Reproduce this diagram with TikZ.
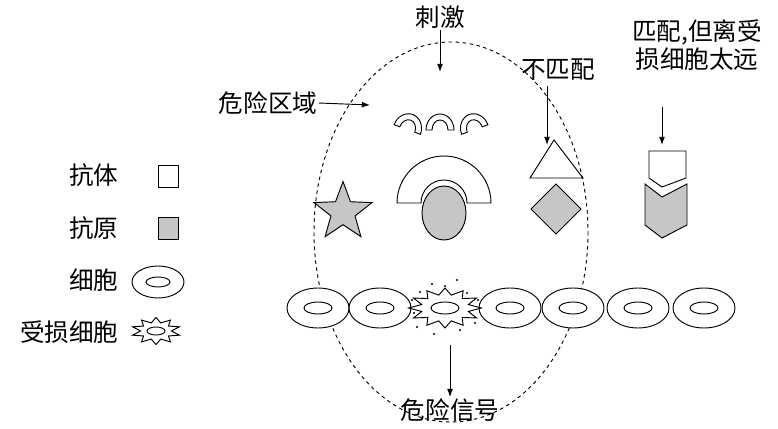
\documentclass[tikz,border=0pt]{standalone}
\usepackage{fontspec}
\setmainfont{Noto Sans CJK SC}
\usetikzlibrary{shapes.geometric,shapes.misc,arrows.meta}
\begin{document}
\begin{tikzpicture}[x=0.03cm,y=-0.03cm,
  lbl/.style={font=\fontsize{21}{24}\selectfont,inner sep=1pt},
  arr/.style={-{Latex[length=7pt,width=5pt]},thick},
  shp/.style={draw,thick},
  ag/.style={draw,thick,fill=gray!45}]
\path[use as bounding box] (0,0) rectangle (778,429);
% dashed zone
\draw[thick,dashed] (451,232) ellipse [x radius=137, y radius=190];
% cells
\foreach \x in {318,380,510,573,638,704}{
  \draw[thick,fill=white] (\x,308) ellipse [x radius=31, y radius=20];
  \draw[thick] (\x,308) ellipse [x radius=14, y radius=6];
}
\node[star,star points=12,star point ratio=1.5,draw,thick,fill=white,minimum size=62pt,inner sep=0pt,yscale=0.55] (dmg) at (445,308) {};
\draw[thick] (445,308) ellipse [x radius=14, y radius=6];
\foreach \p in {(420,292),(432,284),(445,286),(457,280),(412,300),(467,293),(417,327),(434,334),(460,330),(475,323),(478,300),(414,313)}
  \fill \p circle (1.2);
% legend
\node[lbl,anchor=east] (t1) at (120,175) {抗体};
\node[lbl,anchor=east] (t2) at (120,228) {抗原};
\node[lbl,anchor=east] (t3) at (120,280) {细胞};
\node[lbl,anchor=east] (t4) at (120,332) {受损细胞};
\draw[shp] (158,165) rectangle (178,187);
\draw[ag] (158,217) rectangle (178,239);
\draw[thick] (158,282) ellipse [x radius=26, y radius=16];
\draw[thick] (158,282) ellipse [x radius=12, y radius=5];
\node[star,star points=10,star point ratio=1.6,draw,thick,minimum size=42pt,inner sep=0pt,yscale=0.55] (lstar) at (156,331) {};
\draw[thick] (156,331) ellipse [x radius=9, y radius=4];
% stimulus arcs
\foreach \x/\r in {410/-20,440/0,472/20}{
  \begin{scope}[rotate around={\r:(\x,122)}]
  \draw[shp] (\x-14,130) arc[start angle=180,end angle=360,x radius=14,y radius=16] -- ++(-6,0) arc[start angle=360,end angle=180,x radius=8,y radius=10] -- cycle;
  \end{scope}
}
\node[lbl] (ci) at (440,17) {刺激};
\coordinate (ciE) at (440,72);
\draw[arr] (ci) -- (ciE);
% zone label
\node[lbl] (zone) at (268,103) {危险区域};
\coordinate (zoneE) at (370,105);
\draw[arr] (zone.east) -- (zoneE);
% antibody arch + antigen
\draw[shp] (397,203) arc[start angle=180,end angle=360,radius=47] -- (467,203) arc[start angle=360,end angle=180,radius=23] -- cycle;
\draw[ag] (444,213) ellipse [x radius=22, y radius=27];
% star antigen
\node[star,star points=5,star point ratio=2.4,ag,minimum size=52pt,inner sep=0pt] (st) at (343,212) {};
% triangle + diamond
\draw[shp] (530,178) -- (583,178) -- (554,140) -- cycle;
\draw[ag] (556,184) -- (581,209) -- (556,234) -- (531,209) -- cycle;
\node[lbl] (bp) at (558,70) {不匹配};
\coordinate (bpE) at (547,145);
\draw[arr] (547,86) -- (bpE);
% far match
\node[lbl,align=center] (far) at (697,45) {匹配,但离受\\损细胞太远};
\coordinate (farE) at (662,145);
\draw[arr] (662,107) -- (farE);
\draw[shp] (649,151) -- (686,151) -- (686,178) -- (662,187) -- (649,178) -- cycle;
\draw[ag] (645,184) -- (662,197) -- (687,184) -- (687,225) -- (662,238) -- (645,225) -- cycle;
% danger signal
\node[lbl] (sig) at (450,410) {危险信号};
\coordinate (sigS) at (450,345);
\draw[arr] (sigS) -- (sig.north);
\end{tikzpicture}
\end{document}
